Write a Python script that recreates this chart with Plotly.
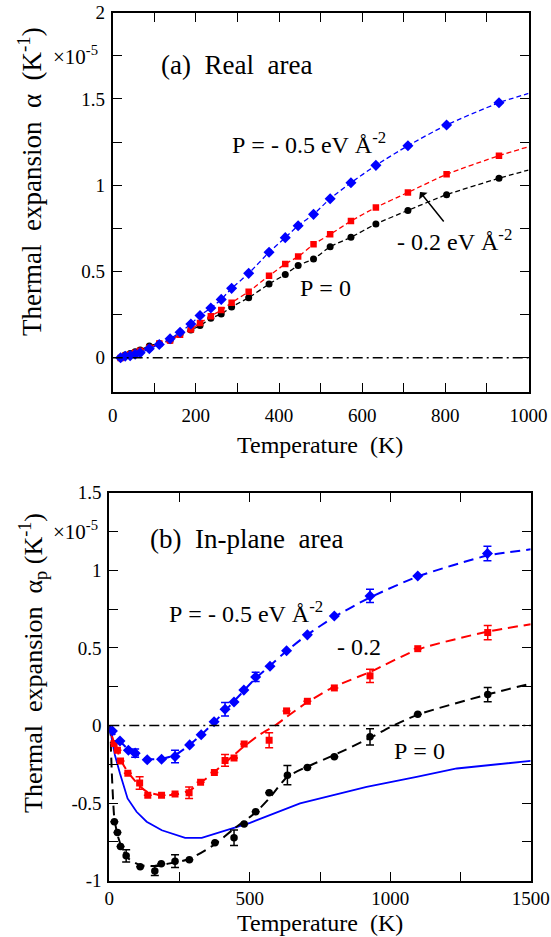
import plotly.graph_objects as go

W, H = 551, 937
FONT = "Liberation Serif, Times New Roman, serif"
NB = "\u00a0"
BLUE, RED, BLACK = "#0000ff", "#ff0000", "#000000"

# ---------------- panel (a): real area ----------------
T_a = [19, 30, 42, 54, 66, 88, 112, 138, 162, 188, 210, 236, 261, 286, 327,
       376, 415, 446, 483, 523, 573, 633, 710, 803, 929]
alpha_a_m05 = [0.0, 0.008, 0.012, 0.02, 0.028, 0.052, 0.077, 0.11, 0.147, 0.195,
               0.245, 0.288, 0.338, 0.402, 0.489, 0.611, 0.696, 0.765, 0.831,
               0.922, 1.014, 1.115, 1.229, 1.349, 1.478]
alpha_a_m02 = [-0.002, 0.012, 0.019, 0.029, 0.041, 0.058, 0.083, 0.099, 0.133,
               0.164, 0.201, 0.241, 0.276, 0.319, 0.383, 0.475, 0.543, 0.586,
               0.657, 0.715, 0.792, 0.871, 0.958, 1.063, 1.171]
alpha_a_0 = [-0.002, 0.015, 0.025, 0.035, 0.044, 0.068, 0.083, 0.10, 0.137, 0.16,
             0.186, 0.228, 0.253, 0.294, 0.348, 0.427, 0.483, 0.535, 0.572, 0.643,
             0.698, 0.775, 0.854, 0.945, 1.040]
# fitted curves continue to the right edge
T_a_end = [1000]
alpha_a_end_m05 = [1.532]
alpha_a_end_m02 = [1.223]
alpha_a_end_0 = [1.088]

# ---------------- panel (b): in-plane area ----------------
T_b_m05 = [11, 38, 68, 92, 135, 186, 234, 286, 327, 373, 412, 444, 479, 521, 572,
           631, 705, 801, 928, 1098, 1346]
ap_b_m05 = [-0.035, -0.10, -0.159, -0.178, -0.221, -0.217, -0.20, -0.125, -0.059,
            0.024, 0.105, 0.152, 0.228, 0.313, 0.382, 0.482, 0.584, 0.706, 0.835,
            0.963, 1.108]
err_b_m05 = [None, None, None, 0.027, None, None, 0.04, None, None, None, 0.044,
             None, None, 0.03, None, None, None, None, 0.043, None, 0.047]

T_b_m02 = [17, 29, 40, 66, 108, 137, 186, 234, 284, 325, 374, 412, 444, 480, 569,
           631, 705, 801, 928, 1098, 1347]
ap_b_m02 = [-0.116, -0.159, -0.228, -0.307, -0.37, -0.449, -0.449, -0.442, -0.434,
            -0.366, -0.303, -0.225, -0.21, -0.12, -0.095, 0.094, 0.156, 0.242,
            0.320, 0.495, 0.599]
err_b_m02 = [None, None, None, None, 0.04, None, None, None, 0.037, None, None,
             0.038, None, None, 0.048, None, None, None, 0.043, None, 0.046]

T_b_0 = [18, 29, 40, 60, 110, 162, 185, 234, 285, 376, 444, 480, 521, 569, 634,
         705, 801, 928, 1098, 1347]
ap_b_0 = [-0.62, -0.69, -0.78, -0.84, -0.91, -0.937, -0.891, -0.874, -0.865,
          -0.756, -0.724, -0.635, -0.556, -0.434, -0.32, -0.27, -0.202, -0.073,
          0.073, 0.199]
err_b_0 = [None, None, None, 0.039, None, 0.03, None, 0.041, None, None, 0.05,
           None, None, None, 0.062, None, None, 0.052, None, 0.046]

# dashed fit curves in panel (b)
fitT_b_m05 = [3, 11, 38, 68, 92, 135, 186, 234, 286, 327, 373, 412, 444, 479, 521,
              572, 631, 705, 801, 928, 1098, 1346, 1500]
fit_b_m05 = [-0.005, -0.035, -0.10, -0.155, -0.185, -0.215, -0.215, -0.19, -0.125,
             -0.06, 0.02, 0.095, 0.155, 0.225, 0.305, 0.385, 0.48, 0.585, 0.70,
             0.825, 0.96, 1.095, 1.135]
fitT_b_m02 = [3, 17, 30, 40, 66, 108, 137, 186, 234, 284, 325, 374, 412, 444, 480,
              530, 590, 631, 705, 801, 928, 1098, 1347, 1500]
fit_b_m02 = [-0.03, -0.11, -0.17, -0.22, -0.3, -0.39, -0.43, -0.45, -0.445, -0.42,
             -0.37, -0.30, -0.24, -0.19, -0.135, -0.065, 0.0, 0.055, 0.15, 0.25,
             0.345, 0.49, 0.605, 0.652]
fitT_b_0 = [3, 10, 18, 30, 45, 70, 110, 160, 210, 285, 376, 444, 521, 569, 634,
            705, 801, 928, 1000, 1098, 1347, 1500]
fit_b_0 = [0.0, -0.35, -0.6, -0.71, -0.79, -0.86, -0.9, -0.905, -0.89, -0.86,
           -0.765, -0.665, -0.56, -0.47, -0.33, -0.265, -0.19, -0.08, -0.01, 0.07,
           0.2, 0.27]

# solid blue curve in panel (b)
T_solid = [0, 8, 20, 38, 65, 97, 133, 187, 270, 329, 436, 501, 679, 916, 1094,
           1237, 1500]
ap_solid = [0, -0.08, -0.19, -0.31, -0.47, -0.556, -0.62, -0.675, -0.724, -0.724,
            -0.665, -0.627, -0.502, -0.395, -0.331, -0.277, -0.228]

# ---------------- ticks ----------------
ytick_a_vals = [0, 0.5, 1, 1.5, 2]
ytick_a_text = ["0", "0.5", "1", "1.5", "2"]
xtick_a_vals = [0, 200, 400, 600, 800, 1000]
xtick_a_text = ["0", "200", "400", "600", "800", "1000"]
ytick_b_vals = [-1, -0.5, 0, 0.5, 1, 1.5]
ytick_b_text = ["-1", "-0.5", "0", "0.5", "1", "1.5"]
xtick_b_vals = [0, 500, 1000, 1500]
xtick_b_text = ["0", "500", "1000", "1500"]

fig = go.Figure()

# ---- panel (a) traces ----
for T, yv, yend, col, sym, ms in [
    (T_a, alpha_a_0, alpha_a_end_0, BLACK, "circle", 7),
    (T_a, alpha_a_m02, alpha_a_end_m02, RED, "square", 6.5),
    (T_a, alpha_a_m05, alpha_a_end_m05, BLUE, "diamond", 8.5),
]:
    fig.add_trace(go.Scatter(x=T + T_a_end, y=yv + yend, mode="lines",
                             line=dict(color=col, width=1.3, dash="5px,3px",
                                       shape="spline", smoothing=0.6),
                             xaxis="x", yaxis="y", hoverinfo="skip"))
    fig.add_trace(go.Scatter(x=T, y=yv, mode="markers",
                             marker=dict(color=col, symbol=sym, size=ms, line=dict(width=0)),
                             xaxis="x", yaxis="y"))

# ---- panel (b) traces ----
fig.add_trace(go.Scatter(x=T_solid, y=ap_solid, mode="lines",
                         line=dict(color=BLUE, width=1.8),
                         xaxis="x2", yaxis="y2"))
for fT, fy, T, yv, err, col, sym, ms in [
    (fitT_b_0, fit_b_0, T_b_0, ap_b_0, err_b_0, BLACK, "circle", 7.5),
    (fitT_b_m02, fit_b_m02, T_b_m02, ap_b_m02, err_b_m02, RED, "square", 7),
    (fitT_b_m05, fit_b_m05, T_b_m05, ap_b_m05, err_b_m05, BLUE, "diamond", 8.5),
]:
    fig.add_trace(go.Scatter(x=fT, y=fy, mode="lines",
                             line=dict(color=col, width=2, dash="10px,6px",
                                       shape="spline", smoothing=0.6),
                             xaxis="x2", yaxis="y2"))
    fig.add_trace(go.Scatter(x=T, y=yv, mode="markers",
                             marker=dict(color=col, symbol=sym, size=ms, line=dict(width=0)),
                             error_y=dict(type="data", array=err, visible=True,
                                          color=col, thickness=1.5, width=4),
                             xaxis="x2", yaxis="y2"))


def axis_style(**kw):
    d = dict(showline=True, linecolor="black", linewidth=1.8, mirror="allticks",
             ticks="inside", ticklen=9, tickwidth=1.3, tickcolor="black",
             showgrid=False, zeroline=False,
             tickfont=dict(family=FONT, size=19, color="black"),
             minor=dict(ticks="inside", ticklen=9, tickwidth=1.3,
                        tickcolor="black", showgrid=False))
    d.update(kw)
    return d


def px_x(p):
    return p / W


def px_y(p):
    return 1 - p / H


layout_axes = dict(
    xaxis=axis_style(domain=[px_x(112.7), px_x(528.5)], anchor="y", range=[0, 1000],
                     tickmode="array", tickvals=xtick_a_vals, ticktext=xtick_a_text,
                     minor_dtick=100, minor_tick0=0, ticklabelstandoff=5),
    yaxis=axis_style(domain=[px_y(392.2), px_y(12.7)], anchor="x", range=[-0.2, 2],
                     tickmode="array", tickvals=ytick_a_vals, ticktext=ytick_a_text,
                     minor_dtick=0.25, minor_tick0=0, ticklabelstandoff=2),
    xaxis2=axis_style(domain=[px_x(109.3), px_x(530.7)], anchor="y2", range=[0, 1500],
                      tickmode="array", tickvals=xtick_b_vals, ticktext=xtick_b_text,
                      minor_dtick=250, minor_tick0=0, ticklabelstandoff=0),
    yaxis2=axis_style(domain=[px_y(880.7), px_y(492.7)], anchor="x2", range=[-1, 1.5],
                      tickmode="array", tickvals=ytick_b_vals, ticktext=ytick_b_text,
                      minor_dtick=0.25, minor_tick0=0, ticklabelstandoff=2),
)


def ann(text, px, py, size, xanchor="left", yanchor="middle", **kw):
    d = dict(text=text, x=px_x(px), y=px_y(py), xref="paper", yref="paper",
             xanchor=xanchor, yanchor=yanchor, showarrow=False,
             font=dict(family=FONT, size=size, color="black"))
    d.update(kw)
    return d


S2 = NB * 2
annotations = [
    # axis titles
    ann(f"Temperature{S2}(K)", 320, 445, 24, xanchor="center"),
    ann(f"Temperature{S2}(K)", 320, 923, 24, xanchor="center"),
    ann(f"Thermal{S2}expansion{S2}α{S2}(K<sup>-1</sup>)", 30, 182, 27,
        xanchor="center", textangle=-90),
    ann(f"Thermal{S2}expansion{S2}α<sub>p</sub>{NB}(K<sup>-1</sup>)", 33, 663, 26,
        xanchor="center", textangle=-90),
    ann("×10<sup>-5</sup>", 100, 56, 21, xanchor="right"),
    ann("×10<sup>-5</sup>", 100, 530, 21, xanchor="right"),
    # panel (a) labels
    ann(f"(a){S2}Real{S2}area", 159, 65, 27),
    ann(f"P{NB}={NB}-{NB}0.5{NB}eV{NB}Å<sup>-2</sup>", 230, 143, 24),
    ann(f"-{NB}0.2{NB}eV{NB}Å<sup>-2</sup>", 395, 240, 24),
    ann(f"P{NB}={NB}0", 298, 288, 24),
    # panel (b) labels
    ann(f"(b){S2}In-plane{S2}area", 148, 539, 27),
    ann(f"P{NB}={NB}-{NB}0.5{NB}eV{NB}Å<sup>-2</sup>", 167, 612, 24),
    ann(f"-{NB}0.2", 335, 647, 24),
    ann(f"P{NB}={NB}0", 392, 751, 24),
    # arrow pointing to the -0.2 curve in panel (a)
    dict(text="", x=739, y=0.961, ax=799, ay=0.781, xref="x", yref="y",
         axref="x", ayref="y", showarrow=True, arrowhead=1, arrowsize=1.2,
         arrowwidth=1.5, arrowcolor="black"),
]

shapes = [
    dict(type="line", xref="x domain", yref="y", x0=0, x1=1, y0=0, y1=0,
         line=dict(color="black", width=1.4, dash="10px,4px,2px,4px")),
    dict(type="line", xref="x2 domain", yref="y2", x0=0, x1=1, y0=0, y1=0,
         line=dict(color="black", width=1.4, dash="10px,4px,2px,4px")),
]

fig.update_layout(
    width=W, height=H, margin=dict(l=0, r=0, t=0, b=0, autoexpand=False),
    paper_bgcolor="white", plot_bgcolor="white", showlegend=False,
    font=dict(family=FONT, color="black"),
    annotations=annotations, shapes=shapes, **layout_axes,
)

fig.write_html("out.html",
               config={"displayModeBar": False},
               post_script="document.body.style.margin='0';"
                           "document.body.style.overflow='hidden';")
